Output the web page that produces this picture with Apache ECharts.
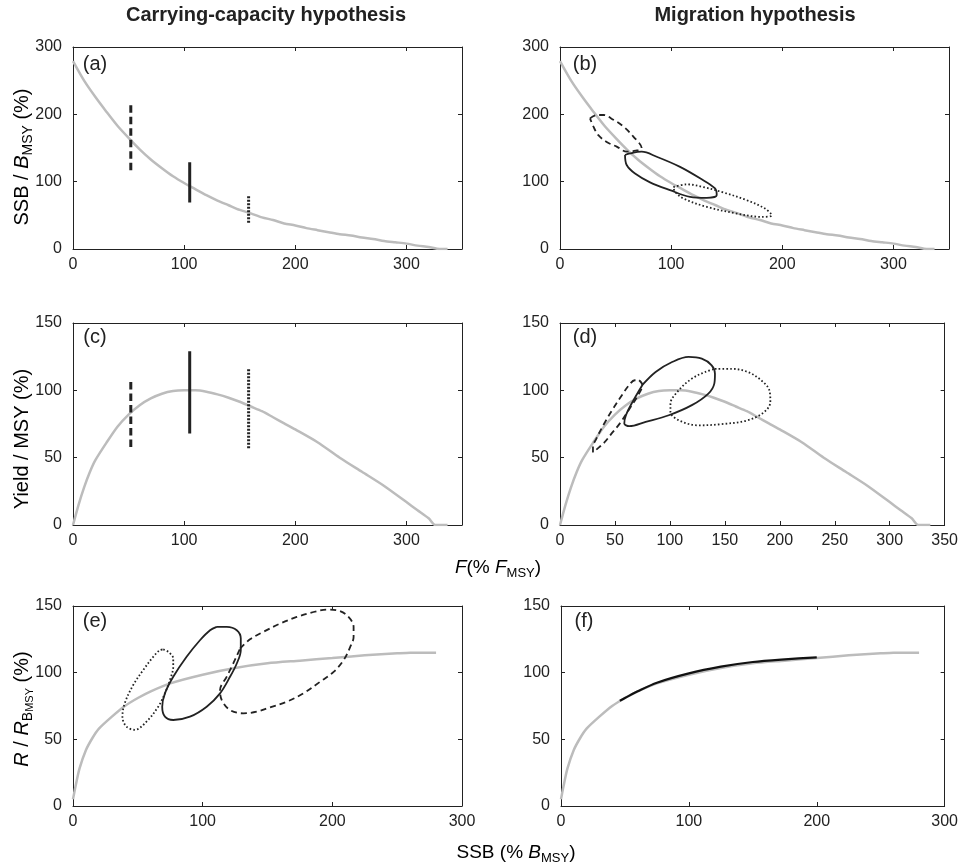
<!DOCTYPE html>
<html>
<head>
<meta charset="utf-8">
<script src="https://cdn.jsdelivr.net/npm/echarts@6/dist/echarts.min.js"></script>
<style>
html,body{margin:0;padding:0;background:#fff}
#main{width:961px;height:867px}
</style>
</head>
<body>
<div id="main"></div>
<script>
// gray model curves
var fVals      = [0,10,20,30,40,50,60,70,80,90,100,110,120,130,140,150,160,170,180,190,200,210,220,230,240,250,260,270,280,290,300,310,320,330,337];
var ssbVals    = [279,250,226,204,183,165,148,133,120,108,98,89,80,72,65,58,53,47,43,38,35,31,28,25,22,20,17,15,12,10,8,5,3,0,0];

var fYield     = [0,5,10,15,20,30,40,50,60,70,80,90,100,110,120,130,140,150,160,170,180,190,200,220,240,260,280,300,310,320,326,337];
var yieldVals  = [0,15,28,39,48,61,73,82,89,94,97.5,99.5,100,100,99,97,94.5,91.5,88,84.5,80,75.5,71,61.5,50,39.5,29,17,11,5,0,0];

var ssbX       = [0,2,5,10,15,20,30,40,50,60,75,100,125,150,175,200,225,250,260,280];
var recVals    = [5,15,28,42,51,58,67,75,81,86,92,98.5,103.5,107,109,111,113,114.5,115,115];

// black part of the curve in (f)
var ssbBlackX  = [46,50,60,75,100,125,150,175,200];
var recBlack   = [79,81,86,92.5,99.5,104.5,108,110,111.5];

// vertical bars: [F, low, high]
var barsA = { dashed: [52, 117, 217], solid: [105, 69, 129], dotted: [158, 39, 79] };
var barsC = { dashed: [52, 58, 108], solid: [105, 68, 129], dotted: [158, 57, 116] };

// contours (b)
var ellBDashed = [[27,194],[33,199],[39,199],[48,192],[57,182],[66,167],[73.5,150],[68,146],[60,144.5],[51,152],[42,159],[34.5,169],[30,182],[27,194]];
var ellBSolid  = [[58.5,139.6],[63,142],[73.5,144.5],[87,137],[108,122],[126,105],[139.5,90],[141,80],[132,76],[117,77.5],[99,87.4],[81,99],[67.5,112],[60,124.7],[58.5,139.6]];
var ellBDotted = [[102,92],[114,96],[129,92],[147,84],[168,72.5],[184.5,60],[190.5,50],[181.5,47.7],[159,52.7],[132,62.6],[111,75],[103.5,85],[102,92]];

// contours (d)
var ellDDashed = [[72,107.5],[75,104],[70,95],[63,86],[55,76],[47,68],[40,61],[33,56],[30,54],[30,58],[33,64],[40,75],[48,86],[56,96],[63,104],[68,107.5],[72,107.5]];
var ellDSolid  = [[75,104],[87,113.6],[102,121],[117,124.8],[129,123.5],[138,118.6],[141,112.4],[140.4,105],[135,97.6],[120,89],[99,81.5],[78,76.6],[63,73.4],[58.5,75.4],[60,81.5],[66,91.4],[75,104]];
var ellDDotted = [[141,116],[156,116],[171,113.6],[183,107.5],[190.5,100],[191.4,91.4],[186,84],[171,77.8],[147,74.9],[126,74],[108,77.8],[100.5,84],[100.5,90],[108,100],[120,108.7],[132,113.6],[141,116]];

// contours (e)
var ellEDashed = [[128.8,118],[136.5,125],[146.8,130.6],[159.7,136.8],[172.6,141.8],[185.5,145.5],[195.8,147.3],[203.5,146.8],[211.3,143],[216.4,134.3],[216.4,126.8],[213.8,119.3],[208.7,109.4],[201,100.6],[190.6,93.2],[177.7,84.5],[164.9,78.2],[152,74],[141.7,70.7],[131.4,69.5],[121.1,72],[114.7,79.5],[113.4,87],[118.5,96.9],[123.6,106.9],[128.8,118]];
var ellESolid  = [[110.8,134.3],[118.6,134.3],[126.3,131.8],[129.4,125.6],[129.4,116.9],[126.3,106.9],[121.1,96.9],[113.4,84.5],[103.1,74.5],[90.2,67],[77.3,64.5],[70.9,67],[68.8,74.5],[70.9,84.5],[77.3,96.9],[87.6,111.9],[97.9,124.3],[105.7,131.8],[110.8,134.3]];
var ellEDotted = [[69.6,117.4],[73.5,115.6],[77.3,110.6],[77.3,104.4],[74.7,94.4],[70.9,84.5],[65.7,74.5],[56.7,63.3],[47.7,57.1],[41.2,59.6],[38.1,67],[39.9,77],[46.4,90.7],[54.1,101.9],[61.9,111.9],[67,116.9],[69.6,117.4]];

var panelTags = ['(a)','(b)','(c)','(d)','(e)','(f)'];

var FONT = 'Liberation Sans, Arial, sans-serif';
var INK = '#222';
var GRAY = '#bcbcbc';

function zip(xs, ys) {
    var out = [];
    for (var i = 0; i < xs.length; i++) out.push([xs[i], ys[i]]);
    return out;
}

var grids = [
    {left: 73,  top: 47,  width: 389, height: 202},
    {left: 560, top: 47,  width: 389, height: 202},
    {left: 73,  top: 323, width: 389, height: 202},
    {left: 560, top: 323, width: 389, height: 202},
    {left: 73,  top: 606, width: 389, height: 200},
    {left: 561, top: 606, width: 389, height: 200}
];

// [xmax, xinterval, ymax, yinterval, show x max label]
var axisSpec = [
    [350, 100, 300, 100, false],
    [350, 100, 300, 100, false],
    [350, 100, 150, 50, false],
    [350, 50, 150, 50, true],
    [300, 100, 150, 50, true],
    [300, 100, 150, 50, true]
];

var xAxes = [], yAxes = [];
axisSpec.forEach(function (s, i) {
    var base = {
        gridIndex: i, type: 'value', min: 0,
        axisLine: {show: true, onZero: false, lineStyle: {color: INK, width: 1}},
        axisTick: {show: true, inside: true, length: 4, lineStyle: {color: INK}},
        splitLine: {show: false}
    };
    xAxes.push(Object.assign({}, base, {
        max: s[0], interval: s[1], position: 'bottom',
        axisLabel: {color: INK, fontSize: 16, fontFamily: FONT, margin: 8, showMaxLabel: s[4]}
    }));
    xAxes.push(Object.assign({}, base, {
        max: s[0], interval: s[1], position: 'top', axisLabel: {show: false}
    }));
    yAxes.push(Object.assign({}, base, {
        max: s[2], interval: s[3], position: 'left',
        axisLabel: {color: INK, fontSize: 16, fontFamily: FONT, margin: 11}
    }));
    yAxes.push(Object.assign({}, base, {
        max: s[2], interval: s[3], position: 'right', axisLabel: {show: false}
    }));
});

var series = [];
function line(panel, data, color, width, type, smooth) {
    series.push({
        type: 'line', xAxisIndex: panel * 2, yAxisIndex: panel * 2,
        data: data, showSymbol: false, symbol: 'none', smooth: smooth || false,
        silent: true,
        lineStyle: {color: color, width: width, type: type || 'solid', cap: 'butt'}
    });
}
function curve(panel, data) {
    line(panel, data, GRAY, 2.5, 'solid', 0.25);
}
function bars(panel, b) {
    line(panel, [[b.dashed[0], b.dashed[1]], [b.dashed[0], b.dashed[2]]], INK, 3, [7.5, 4]);
    line(panel, [[b.solid[0], b.solid[1]], [b.solid[0], b.solid[2]]], INK, 3, 'solid');
    line(panel, [[b.dotted[0], b.dotted[1]], [b.dotted[0], b.dotted[2]]], INK, 3, [2, 1.5]);
}
function loops(panel, dashed, solid, dotted) {
    line(panel, dashed, INK, 1.8, [6, 4], 0.35);
    line(panel, solid, INK, 1.8, 'solid', 0.35);
    line(panel, dotted, INK, 1.8, [1.6, 2.2], 0.35);
}

var ssbCurve = zip(fVals, ssbVals);
var yieldCurve = zip(fYield, yieldVals);
var recCurve = zip(ssbX, recVals);

curve(0, ssbCurve);
bars(0, barsA);
curve(1, ssbCurve);
loops(1, ellBDashed, ellBSolid, ellBDotted);
curve(2, yieldCurve);
bars(2, barsC);
curve(3, yieldCurve);
loops(3, ellDDashed, ellDSolid, ellDDotted);
curve(4, recCurve);
loops(4, ellEDashed, ellESolid, ellEDotted);
curve(5, recCurve);
line(5, zip(ssbBlackX, recBlack), '#111', 2.2, 'solid', 0.3);

var rich = {
    n: {fontSize: 20, fontFamily: FONT, color: INK, lineHeight: 26},
    i: {fontSize: 20, fontFamily: FONT, color: INK, fontStyle: 'italic', lineHeight: 26},
    s: {fontSize: 14, fontFamily: FONT, color: INK, verticalAlign: 'bottom', lineHeight: 16},
    ss: {fontSize: 11, fontFamily: FONT, color: INK, verticalAlign: 'bottom', lineHeight: 11}
};
var richX = {
    n: {fontSize: 19, fontFamily: FONT, color: INK, lineHeight: 24},
    i: {fontSize: 19, fontFamily: FONT, color: INK, fontStyle: 'italic', lineHeight: 24},
    s: {fontSize: 13, fontFamily: FONT, color: INK, verticalAlign: 'bottom', lineHeight: 15}
};

function label(x, y, text, rot, r) {
    return {
        type: 'text', x: x, y: y, rotation: rot || 0, silent: true,
        style: {text: text, rich: r || rich, align: 'center', verticalAlign: 'middle',
                textAlign: 'center', textVerticalAlign: 'middle'}
    };
}

var graphics = [
    {type: 'text', x: 266, y: 15, silent: true,
     style: {text: 'Carrying-capacity hypothesis', font: 'bold 20px ' + FONT, fill: INK,
             align: 'center', verticalAlign: 'middle', textAlign: 'center', textVerticalAlign: 'middle'}},
    {type: 'text', x: 755, y: 15, silent: true,
     style: {text: 'Migration hypothesis', font: 'bold 20px ' + FONT, fill: INK,
             align: 'center', verticalAlign: 'middle', textAlign: 'center', textVerticalAlign: 'middle'}},
    label(22, 157, '{n|SSB / }{i|B}{s|MSY}{n| (%)}', Math.PI / 2),
    label(22, 439, '{n|Yield / MSY (%)}', Math.PI / 2),
    label(22, 709, '{i|R}{n| / }{i|R}{s|B}{ss|MSY}{n| (%)}', Math.PI / 2),
    label(498, 568, '{i|F}{n|(% }{i|F}{s|MSY}{n|)}', 0, richX),
    label(516, 853, '{n|SSB (% }{i|B}{s|MSY}{n|)}', 0, richX)
];
var tagPos = [[95, 64], [585, 64], [95, 337], [585, 337], [95, 621], [584, 621]];
tagPos.forEach(function (p, i) {
    graphics.push({type: 'text', x: p[0], y: p[1], silent: true,
        style: {text: panelTags[i], font: '20px ' + FONT, fill: INK,
                align: 'center', verticalAlign: 'middle', textAlign: 'center', textVerticalAlign: 'middle'}});
});

var chart = echarts.init(document.getElementById('main'));
chart.setOption({
    backgroundColor: '#fff',
    animation: false,
    grid: grids,
    xAxis: xAxes,
    yAxis: yAxes,
    series: series,
    graphic: graphics
});
</script>
</body>
</html>
